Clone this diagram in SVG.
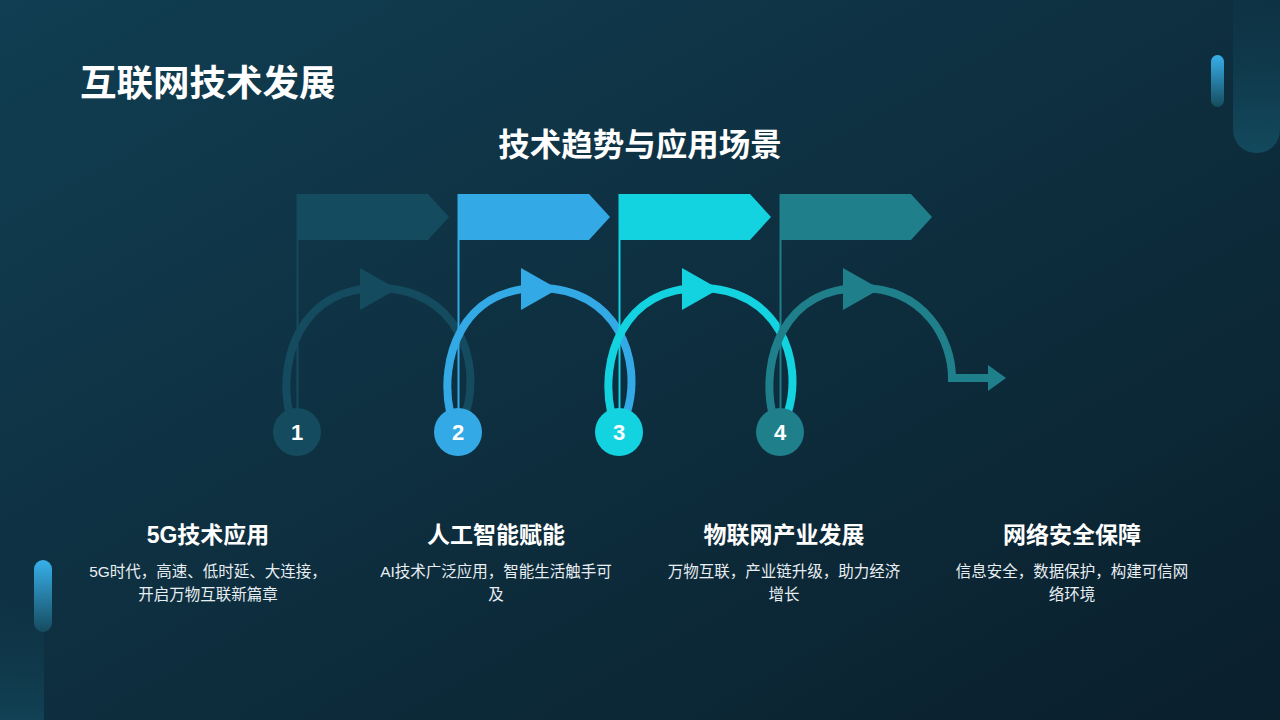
<svg xmlns="http://www.w3.org/2000/svg" width="1280" height="720" viewBox="0 0 1280 720">
<defs>
<linearGradient id="bg" x1="0" y1="0" x2="1" y2="1"><stop offset="0" stop-color="#113e52"/><stop offset="1" stop-color="#0a1f2c"/></linearGradient>
<linearGradient id="pill" x1="0" y1="0" x2="0" y2="1"><stop offset="0" stop-color="#38b0ea"/><stop offset="1" stop-color="#154b5e"/></linearGradient>
<linearGradient id="strip" x1="0" y1="0" x2="0" y2="1"><stop offset="0" stop-color="#0d3547" stop-opacity="0"/><stop offset="1" stop-color="#134a5e"/></linearGradient>
<linearGradient id="strip2" x1="0" y1="0" x2="0" y2="1"><stop offset="0" stop-color="#0d3547" stop-opacity="0.2"/><stop offset="1" stop-color="#134a5e"/></linearGradient>
</defs>
<style>
text{font-family:"Liberation Sans","Noto Sans CJK SC",sans-serif;fill:#fff}
.h{font-size:23px;font-weight:bold;text-anchor:middle}
.d{font-size:15.5px;text-anchor:middle;fill:#e8eef2}
.n{font-size:22px;font-weight:bold;text-anchor:middle}
.arc{fill:none;stroke-width:8}
</style>
<rect width="1280" height="720" fill="url(#bg)"/>
<rect x="1233" y="-40" width="47" height="193" rx="23" fill="url(#strip2)"/>
<rect x="1211" y="55" width="13" height="52" rx="6.5" fill="url(#pill)"/>
<rect x="0" y="560" width="44" height="160" fill="url(#strip)" opacity="0.7"/>
<rect x="34" y="560" width="18" height="72" rx="9" fill="url(#pill)"/>
<text x="80" y="96" font-size="36.5" font-weight="bold">互联网技术发展</text>
<text x="640" y="156" font-size="31.5" font-weight="bold" text-anchor="middle">技术趋势与应用场景</text>
<g id="connectors">
<path class="arc" stroke="#154b5e" d="M289 412 C278 360 300 288 378 288 C456 288 482 360 466 412"/>
<polygon points="360,268 360,310 397,289" fill="#154b5e"/>
<path class="arc" stroke="#33a9e6" d="M450 412 C439 360 461 288 539 288 C617 288 643 360 627 412"/>
<polygon points="521,268 521,310 558,289" fill="#33a9e6"/>
<path class="arc" stroke="#13d3e0" d="M611 412 C600 360 622 288 700 288 C778 288 804 360 788 412"/>
<polygon points="682,268 682,310 719,289" fill="#13d3e0"/>
<path class="arc" stroke="#1f7f8a" d="M772 412 C761 360 783 288 861 288 C925 288 952 340 952 378 H992"/>
<polygon points="843,268 843,310 880,289" fill="#1f7f8a"/>
<polygon points="988,365 988,391 1006,378" fill="#1f7f8a"/>
</g>
<g id="node1">
<line x1="297.5" y1="194" x2="297.5" y2="420" stroke="#154b5e" stroke-width="2"/>
<polygon points="297,194 428,194 449,217 428,240 297,240" fill="#154b5e"/>
<circle cx="297" cy="432" r="24" fill="#154b5e"/><text class="n" x="297" y="440">1</text>
<text class="h" x="208" y="543">5G技术应用</text>
<text class="d" x="208" y="577">5G时代，高速、低时延、大连接，</text>
<text class="d" x="208" y="600">开启万物互联新篇章</text>
</g>
<g id="node2">
<line x1="458.5" y1="194" x2="458.5" y2="420" stroke="#33a9e6" stroke-width="2"/>
<polygon points="458,194 589,194 610,217 589,240 458,240" fill="#33a9e6"/>
<circle cx="458" cy="432" r="24" fill="#33a9e6"/><text class="n" x="458" y="440">2</text>
<text class="h" x="496" y="543">人工智能赋能</text>
<text class="d" x="496" y="577">AI技术广泛应用，智能生活触手可</text>
<text class="d" x="496" y="600">及</text>
</g>
<g id="node3">
<line x1="619.5" y1="194" x2="619.5" y2="420" stroke="#13d3e0" stroke-width="2"/>
<polygon points="619,194 750,194 771,217 750,240 619,240" fill="#13d3e0"/>
<circle cx="619" cy="432" r="24" fill="#13d3e0"/><text class="n" x="619" y="440">3</text>
<text class="h" x="784" y="543">物联网产业发展</text>
<text class="d" x="784" y="577">万物互联，产业链升级，助力经济</text>
<text class="d" x="784" y="600">增长</text>
</g>
<g id="node4">
<line x1="780.5" y1="194" x2="780.5" y2="420" stroke="#1f7f8a" stroke-width="2"/>
<polygon points="780,194 911,194 932,217 911,240 780,240" fill="#1f7f8a"/>
<circle cx="780" cy="432" r="24" fill="#1f7f8a"/><text class="n" x="780" y="440">4</text>
<text class="h" x="1072" y="543">网络安全保障</text>
<text class="d" x="1072" y="577">信息安全，数据保护，构建可信网</text>
<text class="d" x="1072" y="600">络环境</text>
</g>
</svg>
